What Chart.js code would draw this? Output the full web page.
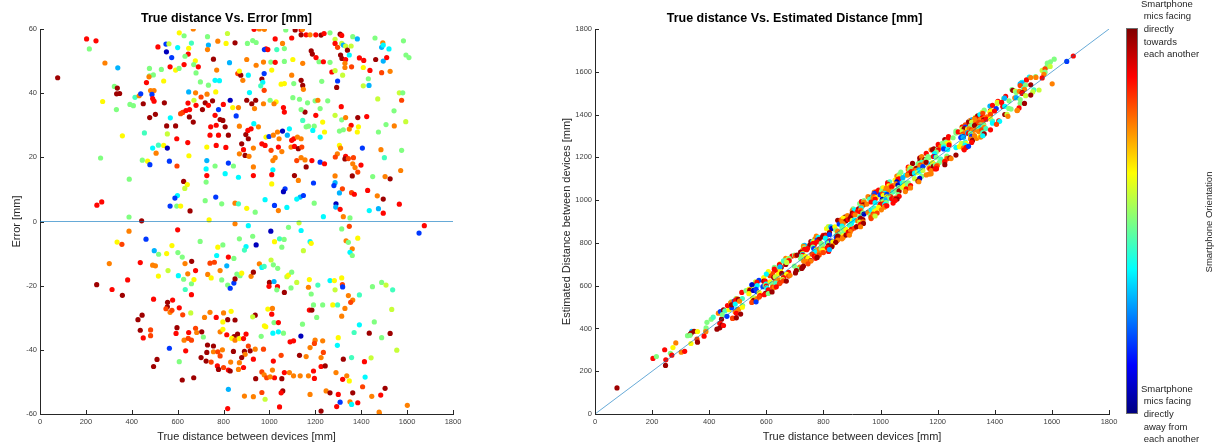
<!DOCTYPE html>
<html>
<head>
<meta charset="utf-8">
<script src="https://cdn.jsdelivr.net/npm/chart.js@4"></script>
<style>
  body { margin: 0; background: #fff; width: 1220px; height: 446px; overflow: hidden; position: relative;
         font-family: "Liberation Sans", Arial, sans-serif; }
  #left { position: absolute; left: 0; top: 0; }
  #right { position: absolute; left: 480px; top: 0; }
  .colorbar { position: absolute; left: 1126px; top: 28px; width: 10px; height: 384px; border: 1px solid #6e6e6e;
              background: linear-gradient(to top, #000080 0%, #0000ff 12.5%, #00ffff 37.5%, #ffff00 62.5%, #ff0000 87.5%, #800000 100%); }
  .note { position: absolute; left: 1141px; font-size: 9.5px; line-height: 12.7px; color: #262626; white-space: pre; }
  .cblabel { position: absolute; left: 1154px; top: 216px; width: 110px; height: 12px; line-height: 12px; text-align: center;
             font-size: 9.5px; color: #262626; white-space: nowrap; transform: rotate(-90deg); }
</style>
</head>
<body>
<canvas id="left" width="480" height="446"></canvas>
<canvas id="right" width="740" height="446"></canvas>
<div class="colorbar"></div>
<div class="note" style="top:-2.4px">Smartphone
 mics facing
 directly
 towards
 each another</div>
<div class="note" style="top:382.6px">Smartphone
 mics facing
 directly
 away from
 each another</div>
<div class="cblabel">Smartphone Orientation</div>
<script>
// ---- data: true distance [mm], error [mm], orientation (0 = away, 1 = towards)
var trueDist = [
  // upper left part
  203,244,215,77,283,339,324,337,334,347,
  273,333,359,264,248,269,389,388,443,392,
  407,414,432,439,450,455,446,469,479,464,
  477,477,494,475,482,497,488,491,497,478,
  503,491,516,506,514,549,562,551,574,529,
  567,591,606,539,542,552,591,568,555,539,
  555,564,597,596,644,613,622,645,636,652,
  651,668,649,626,642,631,599,588,567,596,
  613,654,607,628,668,648,646,632,660,600,
  628,677,670,690,680,648,678,680,671,
  // upper middle
  730,734,730,775,811,817,850,904,927,933,
  956,978,942,985,978,993,1025,1032,1065,1057,
  1097,1112,1138,1138,1160,1177,1202,1225,1238,1264,
  1144,1071,756,826,770,901,942,974,1006,1025,
  1065,1102,1145,1182,1187,1216,1235,1264,1203,1272,
  1010,977,908,862,875,884,869,967,971,962,
  977,1051,1065,1097,1138,1145,1148,1106,1228,699,
  734,763,782,766,728,702,720,734,778,752,
  799,829,840,855,865,901,913,923,940,935,
  974,1003,1029,1020,1061,1065,1102,1131,1166,1199,
  1211,1202,1155,1138,1145,1170,1195,1232,1254,1221,
  708,763,797,785,807,768,744,741,778,821,
  869,897,908,906,932,952,920,985,998,1017,
  1035,1057,1042,1087,1106,1097,1122,1138,1160,1189,
  1221,1240,1078,727,768,810,879,887,869,894,
  911,930,967,981,1007,1025,1039,1054,1094,1109,
  1126,1141,1119,1138,1155,1160,1185,1221,1240,727,
  724,763,821,843,930,1015,1015,727,724,807,
  865,930,1010,1010,1068,1061,1109,1126,1192,1134,
  1119,1148,766,792,720,850,865,901,938,981,
  1022,1039,1076,1195,1235,737,
  // upper right
  1308,1315,1363,1383,1460,1494,1489,1496,1521,1584,
  1595,1608,1286,1286,1297,1315,1322,1332,1340,1356,
  1310,1316,1332,1348,1329,1329,1358,1392,1411,1463,
  1496,1511,1409,1438,1489,1526,1286,1319,1297,1431,
  1409,1434,1293,1566,1581,1576,1472,1313,1543,1286,
  1315,1332,1385,1424,1356,1348,1388,1383,1305,1322,
  1475,1508,1544,1594,1305,1310,1405,1486,1576,1296,
  1287,1332,1329,1344,1366,1501,1363,1373,1399,1385,
  1286,1361,1450,1504,1526,1572,1286,1281,1318,1305,
  1358,1370,1428,1470,1496,1566,1290,1289,1308,1435,
  1475,1496,1322,1351,
  // lower left
  388,600,462,336,357,498,517,552,575,601,
  620,661,678,302,437,491,503,558,516,603,
  626,632,644,660,671,633,247,314,382,359,
  660,495,578,556,555,549,567,575,607,622,
  657,445,427,437,450,482,482,597,593,648,
  678,683,628,646,660,564,635,510,495,607,
  620,670,
  // lower middle
  850,908,1006,1083,1129,1138,698,869,927,942,
  898,891,775,797,1044,1064,1054,1022,1177,1182,
  1148,821,770,760,741,845,814,785,731,746,
  792,818,829,845,858,850,872,879,920,930,
  956,967,977,1007,1017,1036,1000,998,1035,1020,
  1065,1032,1076,1083,1097,1119,1094,1174,1170,1182,
  1211,1264,741,717,768,800,833,850,818,797,
  785,797,814,846,861,898,836,850,869,887,
  938,927,993,1013,1010,1020,978,984,1015,1039,
  1039,1061,964,1090,1105,1144,1137,1174,1185,1192,
  1232,1206,1199,1177,1196,1232,712,705,730,756,
  727,756,775,795,843,891,908,894,916,938,
  974,1017,1051,1131,1160,1225,1235,702,724,785,
  746,773,800,778,831,869,879,865,821,829,
  887,930,940,967,977,988,1013,1022,1003,1054,
  1065,1087,1105,1134,1170,1192,1196,1225,1243,1177,
  891,930,967,981,1058,1051,1044,818,821,1225,
  1247,1264,
  // lower right
  1675,1652,1348,1315,1334,1344,1385,1361,1351,1361,
  1315,1283,1318,1319,1286,1449,1489,1508,1537,1392,
  1344,1363,1354,1276,1297,1329,1533,1315,1457,1392,
  1369,1435,1526,1489,1300,1296,1555,1322,1358,1414,
  1443,1290,1337,1319,1348,1417,1406,1504,1485,1446,
  1300,1363,1308,1293,1351,1358,1385,1601,1478,1479
];

var errorMm = [
  56.9,56.3,53.8,44.8,49.4,47.9,42.1,41.6,39.8,39.9,
  37.4,34.9,26.7,19.8,5.1,6.1,13.2,1.4,0.2,36.5,
  36.1,38.7,39.2,39.8,36.7,27.6,19.1,18.8,17.7,43.3,
  45.4,47.7,45.7,45.1,40.8,40.8,39.6,38.3,37.5,32.4,
  33.4,22.9,23.8,21.3,54.4,55.3,55.4,52.9,51.1,47.4,
  48.2,47.2,47.7,43.8,37.0,29.8,29.8,32.3,27.3,23.7,
  22.9,18.8,17.3,25.8,24.6,33.6,34.0,36.9,34.6,34.9,
  32.6,31.0,20.5,12.5,11.5,10.3,8.1,7.3,4.8,4.8,
  4.8,3.3,58.8,57.9,60.0,54.0,52.2,51.5,55.6,54.2,
  48.9,50.1,48.9,48.2,46.3,40.4,40.1,36.2,37.8,

  57.6,55.0,53.6,56.2,55.5,58.6,55.7,55.5,56.4,59.9,
  60.0,59.9,55.8,53.8,53.6,53.6,56.9,53.6,53.9,55.5,
  57.2,59.7,59.7,58.2,58.2,58.2,58.2,58.1,58.6,58.8,
  59.9,59.7,50.6,49.5,47.2,50.5,48.7,49.7,49.7,49.6,
  49.9,50.5,49.3,53.2,52.2,49.8,49.8,49.6,51.1,46.6,
  47.2,46.1,45.6,46.1,45.6,44.0,46.9,44.4,43.4,42.3,
  40.9,42.8,43.0,45.6,44.0,42.4,41.2,43.0,43.7,43.5,
  42.5,44.0,43.9,40.4,39.7,38.8,37.0,36.2,34.9,37.6,
  36.5,37.8,35.5,32.9,35.5,37.8,40.2,36.7,37.8,35.2,
  36.7,37.8,37.3,36.7,35.5,34.1,38.6,38.1,37.0,37.6,
  37.8,33.1,34.1,34.9,31.5,29.7,29.7,31.0,37.6,35.2,
  34.9,33.1,31.5,31.8,29.5,30.0,29.5,26.9,26.9,26.9,
  29.7,27.1,25.8,28.4,30.5,29.5,28.9,26.3,26.5,26.9,
  27.9,28.2,25.8,28.9,25.8,25.3,26.3,25.8,29.5,28.4,
  26.3,27.9,26.9,23.2,23.7,23.1,24.2,22.4,21.1,20.6,
  20.3,22.9,24.2,23.7,22.2,19.9,23.2,21.8,23.2,23.4,
  22.7,23.2,19.0,19.9,19.2,17.0,19.0,18.5,18.0,19.0,
  16.4,17.3,18.2,17.3,17.0,19.0,16.1,14.3,12.3,14.9,
  13.8,14.3,14.6,11.7,10.2,9.3,14.3,12.8,12.0,7.6,
  7.0,8.1,7.6,5.5,6.5,5.7,5.5,4.1,2.9,6.8,
  5.0,3.4,4.4,5.7,1.5,0.5,

  58.4,58.0,57.6,56.9,57.2,55.7,54.3,55.0,53.8,56.3,
  51.9,51.1,56.8,55.5,54.3,55.5,55.0,54.7,53.4,54.7,
  51.9,50.8,50.5,51.9,49.3,48.0,48.2,51.0,50.2,50.5,
  50.0,51.1,48.0,47.1,46.4,46.8,47.0,45.6,43.8,44.5,
  42.3,42.4,41.8,40.1,40.1,37.8,38.2,35.8,34.5,33.1,
  31.7,32.4,32.4,32.7,30.0,28.8,29.5,27.9,28.2,28.6,
  27.9,30.2,29.8,31.1,23.7,22.9,22.9,22.4,22.2,21.1,
  20.1,20.3,19.5,19.6,19.9,19.9,18.0,16.8,17.6,15.4,
  14.2,14.2,14.0,14.0,13.3,15.9,12.1,11.2,10.2,8.9,
  9.0,8.5,9.7,8.0,7.0,5.4,5.5,4.5,3.8,3.4,
  4.0,2.6,1.5,1.1,

  -3.0,-2.6,-5.5,-6.4,-7.1,-9.1,-10.2,-10.0,-7.5,-9.7,
  -11.1,-12.4,-15.3,-13.1,-12.8,-13.6,-13.8,-15.3,-17.0,-16.9,
  -18.0,-13.1,-16.3,-19.4,-18.1,-21.2,-19.7,-21.2,-18.2,-23.0,
  -22.8,-24.2,-24.5,-25.2,-26.6,-27.2,-28.3,-27.7,-26.9,-29.1,
  -28.5,-29.2,-30.6,-33.9,-36.3,-33.8,-35.6,-33.1,-34.9,-34.6,
  -33.3,-34.6,-37.0,-36.4,-37.0,-39.5,-40.3,-43.0,-45.2,-43.7,
  -49.4,-48.7,

  -0.7,-1.3,-3.0,-1.8,-0.4,-2.8,-6.2,-5.4,-4.6,-7.3,
  -7.8,-8.9,-8.0,-7.3,-5.4,-5.6,-8.0,-6.3,-6.3,-6.8,
  -9.1,-11.1,-10.6,-12.7,-13.0,-11.5,-13.8,-15.3,-16.5,-17.6,
  -18.2,-19.8,-20.8,-19.2,-16.4,-17.9,-16.9,-16.1,-17.1,-15.8,
  -13.2,-14.3,-14.0,-12.0,-13.5,-14.6,-19.0,-20.2,-20.3,-18.7,
  -22.1,-21.3,-17.2,-16.7,-15.8,-19.0,-20.7,-18.1,-20.5,-22.6,
  -19.8,-18.4,-28.3,-29.9,-29.9,-28.5,-28.0,-30.7,-30.6,-31.3,
  -34.4,-33.6,-35.3,-35.9,-35.1,-35.1,-36.4,-37.0,-36.5,-36.5,
  -29.2,-29.7,-27.3,-27.1,-28.9,-31.5,-32.5,-32.8,-34.8,-34.4,
  -31.5,-34.8,-35.8,-37.5,-37.2,-32.0,-35.7,-27.6,-27.6,-26.0,
  -26.0,-29.9,-37.0,-39.3,-38.0,-37.2,-36.0,-34.4,-38.5,-38.8,
  -40.8,-40.6,-40.6,-40.0,-40.5,-40.5,-38.8,-41.4,-40.3,-39.8,
  -39.8,-43.5,-41.7,-41.7,-42.1,-42.4,-40.8,-42.4,-43.5,-41.9,
  -43.8,-45.0,-45.5,-46.1,-43.8,-44.0,-42.4,-46.1,-46.3,-46.6,
  -45.5,-42.9,-49.0,-46.9,-47.8,-48.7,-46.3,-48.7,-48.4,-49.0,
  -47.1,-47.1,-48.1,-48.1,-48.1,-46.6,-48.9,-45.2,-45.0,-53.9,
  -54.4,-54.6,-53.3,-55.4,-52.8,-53.4,-57.8,-58.3,-52.3,-59.1,
  -52.8,-53.4,

  -1.3,-3.6,-1.5,-2.3,-6.0,-6.5,-5.2,-8.5,-9.6,-10.6,
  -17.6,-18.4,-19.7,-20.4,-21.3,-20.3,-19.0,-19.8,-21.3,-22.9,
  -23.1,-24.5,-25.2,-26.0,-26.0,-27.1,-27.4,-29.5,-31.3,-32.2,
  -34.6,-34.8,-34.9,-36.2,-36.2,-38.6,-40.1,-42.9,-42.4,-43.7,
  -42.5,-47.1,-48.1,-49.2,-49.7,-48.5,-51.5,-52.0,-54.1,-54.5,
  -53.9,-53.4,-56.3,-57.7,-56.2,-57.0,-56.5,-57.3,-59.4,-59.9
];

var orientation = [
  .87,.87,.5,.97,.75,.3,.5,.97,.97,.97,
  .63,.5,.63,.5,.87,.87,.5,.5,.97,.5,
  .5,.44,.75,.18,.97,.44,.5,.63,.18,.87,
  .5,.5,.5,.75,.75,.75,.18,.87,.87,.97,
  .97,.37,.44,.75,.87,.18,.57,.06,.18,.5,
  .87,.63,.5,.63,.97,.97,.97,.37,.57,.63,
  .06,.18,.81,.87,.87,.81,.81,.87,.87,.87,
  .97,.97,.63,.97,.63,.57,.37,.18,.18,.5,
  .63,.97,.63,.5,.75,.63,.87,.5,.44,.37,
  .87,.63,.5,.87,.5,.3,.75,.87,.57,

  .5,.3,.75,.75,.63,.57,.97,.5,.5,.87,
  .75,.75,.5,.87,.18,.87,.87,.44,.5,.75,
  .87,.97,.87,.97,.87,.75,.87,.97,.87,.5,
  .75,.5,.97,.3,.75,.75,.75,.75,.5,.87,
  .5,.63,.75,.97,.97,.5,.87,.5,.87,.87,
  .63,.18,.37,.81,.97,.75,.63,.97,.37,.44,
  .81,.63,.63,.75,.97,.97,.75,.5,.5,.5,
  .5,.37,.37,.63,.75,.81,.97,.87,.18,.97,
  .87,.06,.63,.18,.75,.97,.37,.97,.97,.75,
  .75,.5,.63,.75,.87,.87,.5,.5,.5,.5,
  .75,.87,.97,.5,.44,.5,.5,.63,.5,.5,
  .97,.87,.97,.97,.97,.87,.87,.87,.87,.97,
  .75,.97,.97,.87,.37,.75,.87,.63,.18,.75,
  .75,.06,.75,.37,.87,.87,.75,.75,.5,.37,
  .37,.63,.3,.63,.87,.87,.97,.87,.75,.97,
  .75,.75,.87,.87,.81,.75,.87,.75,.75,.87,
  .97,.81,.81,.75,.75,.97,.87,.18,.87,.3,
  .37,.5,.18,.5,.75,.75,.37,.87,.5,.37,
  .37,.87,.87,.63,.18,.06,.97,.75,.18,.3,
  .37,.18,.18,.5,.5,.75,.44,.63,.5,.37,
  .18,.75,.37,.5,.37,.63,

  .97,.87,.5,.3,.5,.75,.3,.37,.37,.5,
  .5,.5,.57,.87,.81,.57,.3,.57,.97,.57,
  .97,.97,.87,.37,.75,.75,.81,.87,.87,.97,
  .3,.87,.63,.87,.81,.75,.57,.57,.18,.5,
  .57,.3,.97,.57,.5,.81,.57,.87,.5,.57,
  .5,.75,.97,.87,.87,.75,.63,.63,.5,.5,
  .5,.5,.75,.57,.63,.75,.18,.75,.5,.75,
  .81,.87,.97,.81,.81,.44,.75,.75,.87,.81,
  .75,.97,.5,.75,.97,.75,.3,.18,.81,.3,
  .81,.87,.87,.75,.97,.87,.06,.3,.87,.37,
  .3,.87,.75,.5,

  .75,.87,.18,.63,.81,.3,.5,.63,.63,.5,
  .5,.97,.87,.75,.87,.75,.75,.57,.63,.37,
  .5,.75,.75,.5,.63,.44,.97,.87,.87,.97,
  .87,.87,.87,.97,.97,.81,.75,.81,.87,.81,
  .57,.97,.97,.97,.87,.81,.81,.97,.87,.87,
  .81,.75,.75,.81,.81,.18,.87,.97,.97,.5,
  .97,.97,

  .75,.37,.06,.5,.57,.37,.5,.5,.5,.06,
  .37,.44,.63,.5,.44,.5,.5,.63,.37,.63,
  .57,.87,.37,.81,.81,.5,.3,.75,.75,.63,
  .5,.5,.18,.18,.5,.97,.5,.63,.75,.97,
  .75,.37,.44,.57,.5,.5,.97,.87,.87,.3,
  .97,.5,.57,.63,.5,.57,.5,.63,.75,.5,
  .44,.37,.75,.75,.87,.75,.63,.97,.97,.63,
  .75,.63,.87,.97,.97,.87,.63,.75,.63,.87,
  .97,.57,.63,.75,.87,.5,.63,.63,.37,.37,
  .87,.5,.5,.87,.87,.5,.06,.87,.97,.5,
  .5,.5,.75,.75,.81,.75,.5,.97,.97,.97,
  .97,.75,.81,.75,.97,.97,.81,.75,.97,.75,
  .81,.87,.81,.97,.75,.75,.81,.97,.97,.81,
  .81,.87,.81,.97,.75,.75,.97,.75,.87,.97,
  .87,.87,.97,.81,.75,.81,.75,.87,.75,.97,
  .87,.75,.75,.75,.75,.87,.87,.87,.97,.75,
  .75,.75,.81,.57,.97,.87,.87,.87,.3,.97,
  .75,.97,

  .87,.18,.81,.5,.75,.5,.63,.75,.37,.5,
  .63,.63,.81,.18,.57,.5,.5,.57,.44,.44,
  .75,.75,.81,.63,.44,.75,.57,.75,.5,.37,
  .44,.97,.97,.5,.63,.37,.57,.97,.44,.87,
  .57,.75,.75,.87,.63,.37,.81,.97,.87,.75,
  .87,.97,.18,.87,.75,.37,.87,.75,.75,.75
];

var distTicks = [0,200,400,600,800,1000,1200,1400,1600,1800];
var errTicks = [-60,-40,-20,0,20,40,60];

// MATLAB "jet" colormap
function jet(v) {
  var c = function (t) { return Math.round(255 * Math.max(0, Math.min(1, t))); };
  return 'rgb(' + c(1.5 - Math.abs(4*v - 3)) + ',' + c(1.5 - Math.abs(4*v - 2)) + ',' + c(1.5 - Math.abs(4*v - 1)) + ')';
}
var pointColors = orientation.map(jet);

var errPoints = trueDist.map(function (d, i) { return {x: d, y: errorMm[i]}; });
var estPoints = trueDist.map(function (d, i) { return {x: d, y: d + errorMm[i]}; });

var FONT = '"Liberation Sans", Arial, sans-serif';
var refLine = 'rgba(0,114,189,0.6)';

// MATLAB style ticks pointing into the plot
const inwardTicks = {
  id: 'inwardTicks',
  afterDraw(chart) {
    const {ctx, chartArea, scales} = chart;
    ctx.save();
    ctx.strokeStyle = '#262626';
    ctx.lineWidth = 1;
    ctx.beginPath();
    scales.x.ticks.forEach(t => {
      const x = Math.round(scales.x.getPixelForValue(t.value)) + 0.5;
      ctx.moveTo(x, chartArea.bottom); ctx.lineTo(x, chartArea.bottom - 4);
    });
    scales.y.ticks.forEach(t => {
      const y = Math.round(scales.y.getPixelForValue(t.value)) + 0.5;
      ctx.moveTo(chartArea.left, y); ctx.lineTo(chartArea.left + 4, y);
    });
    ctx.stroke();
    ctx.restore();
  }
};

function axis(min, max, tickList, label, fitFn, titlePad) {
  return {
    type: 'linear', min: min, max: max,
    afterBuildTicks: s => { s.ticks = tickList.map(v => ({value: v})); },
    afterFit: fitFn,
    ticks: { font: {family: FONT, size: 7.5}, color: '#404040', padding: 3, maxRotation: 0, autoSkip: false,
             callback: v => String(v) },
    grid: { drawOnChartArea: false, drawTicks: false },
    border: { display: true, color: '#262626', width: 1 },
    title: { display: true, text: label, color: '#262626', font: {family: FONT, size: 11}, padding: titlePad }
  };
}

function makeChart(id, title, points, line, yMin, yMax, yTicks, yLabel, yWidth, yTitlePad, rightPad) {
  return new Chart(id, {
    type: 'scatter',
    data: {
      datasets: [
        { data: line, showLine: true, borderColor: refLine, borderWidth: 1, pointRadius: 0 },
        { data: points, pointRadius: 2.6, pointBorderWidth: 0, pointBackgroundColor: pointColors, backgroundColor: pointColors }
      ]
    },
    options: {
      responsive: false,
      animation: false,
      events: [],
      layout: { padding: { left: 0, right: rightPad, top: 0, bottom: 0 } },
      plugins: {
        legend: { display: false },
        tooltip: { enabled: false },
        title: { display: true, text: title, color: '#000',
                 font: {family: FONT, size: 12.5, weight: 'bold'}, padding: {top: 11.5, bottom: 2.5} }
      },
      scales: {
        x: axis(0, 1800, distTicks, 'True distance between devices [mm]', s => { s.height = 32; }, {top: 0, bottom: 2.4}),
        y: axis(yMin, yMax, yTicks, yLabel, s => { s.width = yWidth; }, {top: yTitlePad, bottom: 0})
      }
    },
    plugins: [inwardTicks]
  });
}

makeChart('left', 'True distance Vs. Error [mm]', errPoints,
  [{x: 0, y: 0}, {x: 1800, y: 0}], -60, 60, errTicks, 'Error [mm]', 40, 10.4, 27);

makeChart('right', 'True distance Vs. Estimated Distance [mm]', estPoints,
  [{x: 0, y: 0}, {x: 1800, y: 1800}], 0, 1800, distTicks, 'Estimated Distance between devices [mm]', 115, 80.4, 111);
</script>
</body>
</html>
